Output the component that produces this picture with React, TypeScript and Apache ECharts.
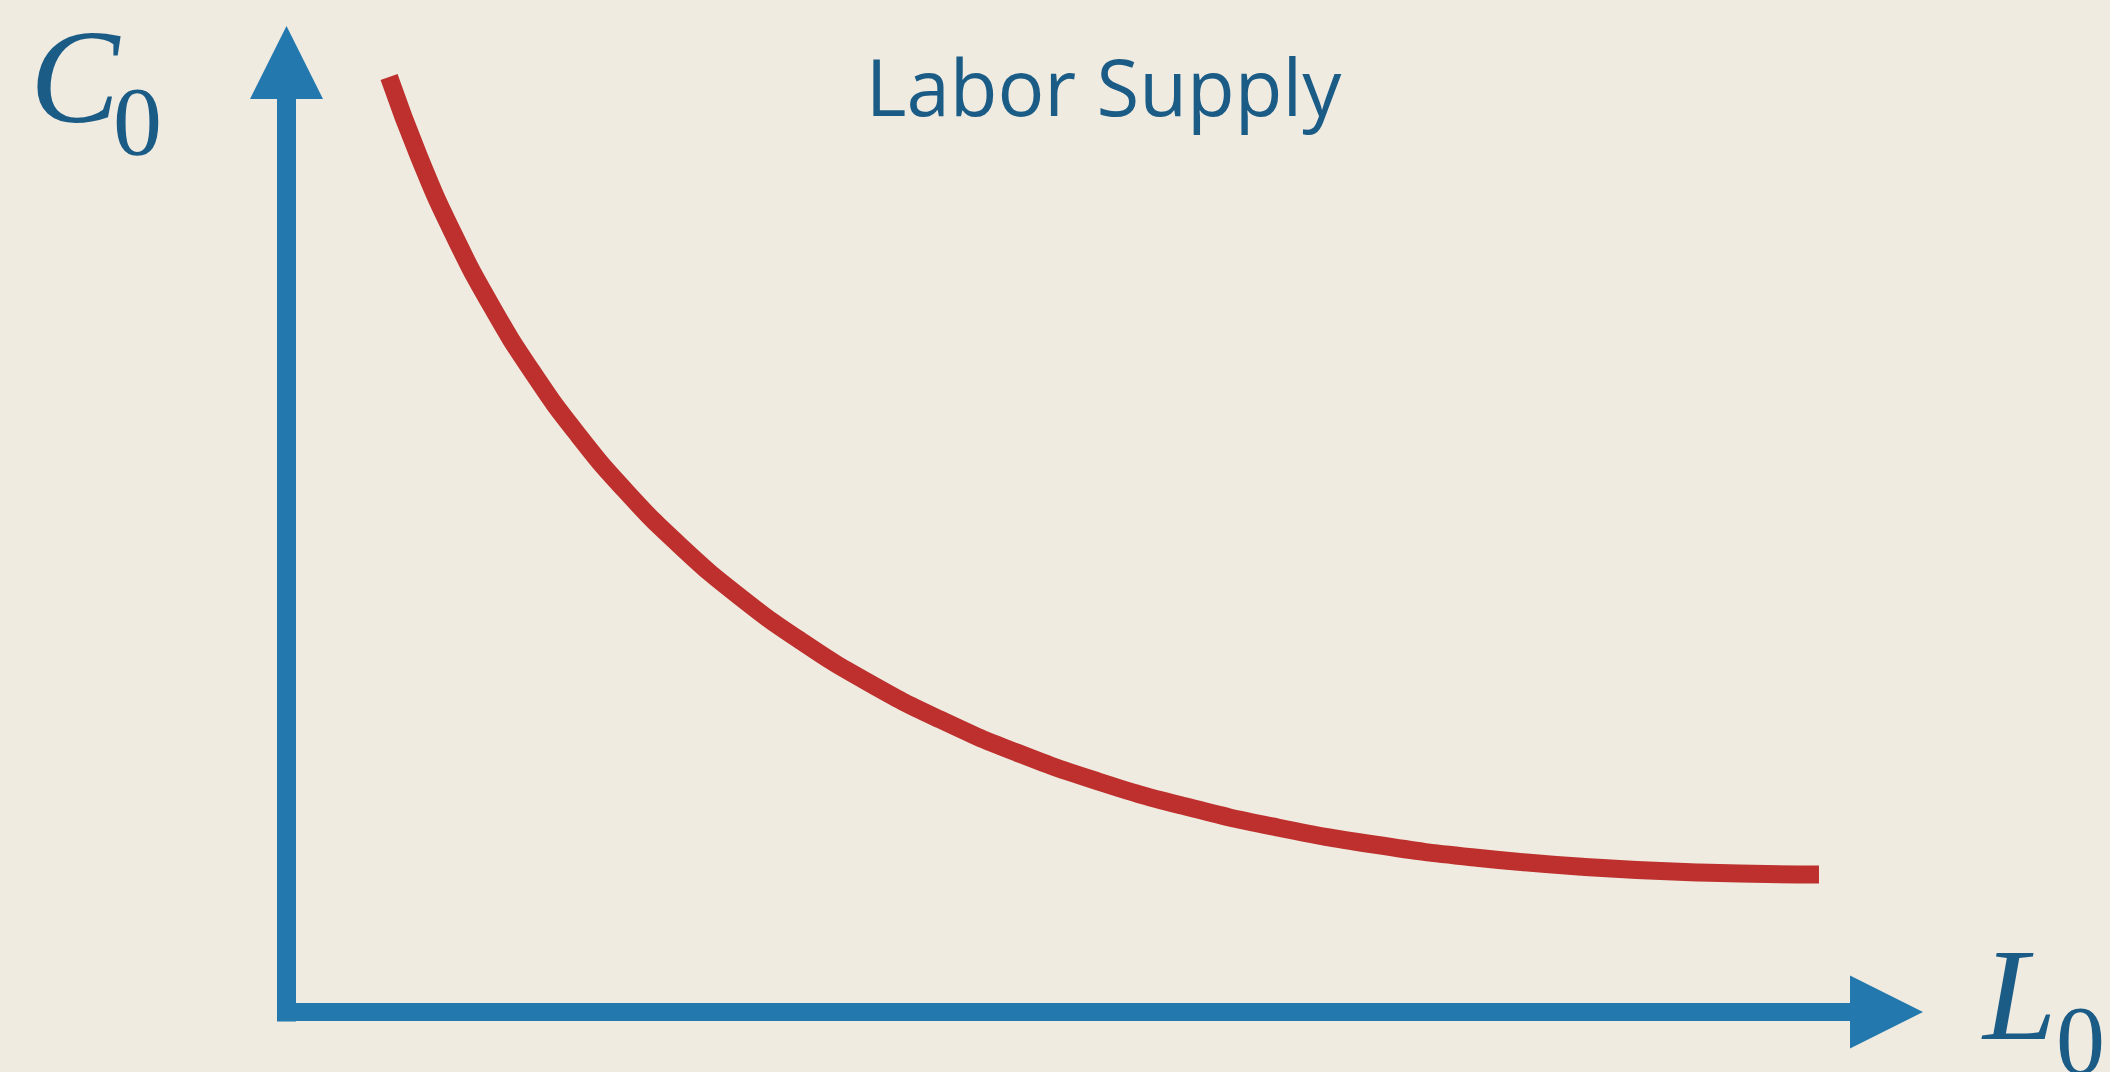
import React, { useEffect, useRef } from "react";
import * as echarts from "echarts";

// Labor supply curve (abstract units, 0..100 on both axes)
const curveX: number[] = [6.41, 8.3, 10.41, 12.76, 15.35, 18.18, 21.27, 24.63, 28.25, 32.16, 36.35, 40.84, 45.63, 50.73, 56.15, 61.9, 67.97, 74.39, 81.16, 88.29, 95.78];
const curveY: number[] = [98.47, 90.01, 82.02, 74.5, 67.45, 60.87, 54.74, 49.06, 43.84, 39.06, 34.71, 30.81, 27.33, 24.28, 21.66, 19.45, 17.64, 16.25, 15.27, 14.68, 14.48];

const titleText = "Labor Supply";
const yAxisLetter = "C";
const xAxisLetter = "L";
const subscript = "0";

const BG = "#efebe1";
const AXIS = "#2378ad";
const CURVE = "#be302d";
const TEXT = "#1b5c87";

export default function App() {
  const ref = useRef<HTMLDivElement>(null);
  useEffect(() => {
    document.body.style.margin = "0";
    document.body.style.background = BG;
    const chart = echarts.init(ref.current!, null, { renderer: "svg" });
    const data = curveX.map((x, i) => [x, curveY[i]]);
    chart.setOption({
      animation: false,
      backgroundColor: BG,
      grid: { left: 286.5, right: 223.5, top: 62.5, bottom: 60, containLabel: false },
      xAxis: {
        type: "value",
        min: 0,
        max: 100,
        axisLine: {
          show: true,
          symbol: ["none", "triangle"],
          symbolSize: [73, 73],
          lineStyle: { color: AXIS, width: 18, cap: "square" },
        },
        axisTick: { show: false },
        axisLabel: { show: false },
        splitLine: { show: false },
      },
      yAxis: {
        type: "value",
        min: 0,
        max: 100,
        axisLine: {
          show: true,
          symbol: ["none", "triangle"],
          symbolSize: [73, 73],
          lineStyle: { color: AXIS, width: 19, cap: "square" },
        },
        axisTick: { show: false },
        axisLabel: { show: false },
        splitLine: { show: false },
      },
      series: [
        {
          type: "line",
          data,
          smooth: 0.5,
          showSymbol: false,
          symbol: "none",
          lineStyle: { color: CURVE, width: 18, cap: "butt" },
        },
      ],
      graphic: [
        {
          type: "text",
          x: 1103.5,
          y: 85.5,
          style: {
            text: titleText,
            fontFamily: "Open Sans",
            fontSize: 78,
            fill: TEXT,
            align: "center",
            verticalAlign: "middle",
          },
        },
        {
          type: "text",
          x: 30,
          y: 76.5,
          style: {
            text: yAxisLetter,
            fontFamily: "Liberation Serif",
            fontStyle: "italic",
            fontSize: 134,
            fill: TEXT,
            align: "left",
            verticalAlign: "middle",
          },
        },
        {
          type: "text",
          x: 113,
          y: 121,
          style: {
            text: subscript,
            fontFamily: "Liberation Serif",
            fontSize: 98,
            fill: TEXT,
            align: "left",
            verticalAlign: "middle",
          },
        },
        {
          type: "text",
          x: 1983,
          y: 994.5,
          style: {
            text: xAxisLetter,
            fontFamily: "Liberation Serif",
            fontStyle: "italic",
            fontSize: 132,
            fill: TEXT,
            align: "left",
            verticalAlign: "middle",
          },
        },
        {
          type: "text",
          x: 2056,
          y: 1040,
          style: {
            text: subscript,
            fontFamily: "Liberation Serif",
            fontSize: 98,
            fill: TEXT,
            align: "left",
            verticalAlign: "middle",
          },
        },
      ],
    });
    return () => chart.dispose();
  }, []);
  return (
    <div
      ref={ref}
      style={{ position: "fixed", left: 0, top: 0, width: 2110, height: 1072, background: BG }}
    />
  );
}
